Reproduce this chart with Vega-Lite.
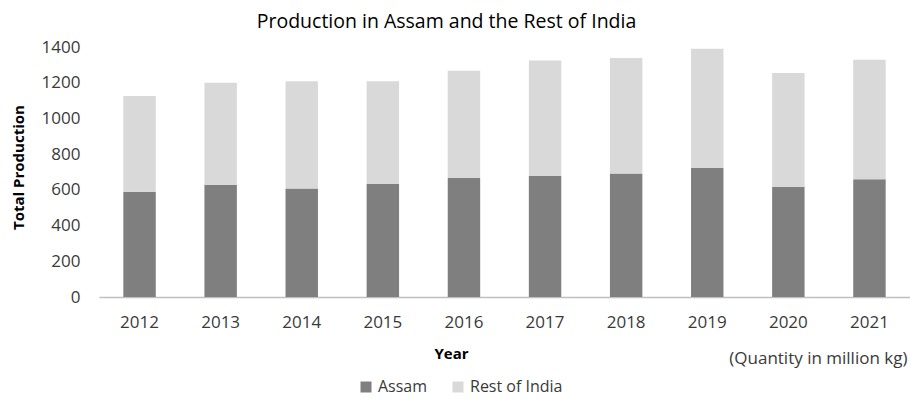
{
  "$schema": "https://vega.github.io/schema/vega-lite/v6.json",
  "width": 811,
  "height": 250,
  "autosize": {"type": "none"},
  "padding": {"left": 99, "top": 47, "right": 0, "bottom": 103},
  "background": "white",
  "config": {
    "font": "Open Sans",
    "view": {"stroke": null},
    "axisY": {"labelOverlap": false, "labelFlush": false}
  },
  "title": {
    "text": "Production in Assam and the Rest of India",
    "anchor": "middle",
    "frame": "group",
    "dx": -58,
    "dy": 12,
    "fontSize": 19.5,
    "fontWeight": "normal",
    "color": "#000000",
    "baseline": "alphabetic",
    "offset": 3
  },
  "data": {
    "values": [
      {"Year": "2012", "Region": "Assam", "Production": 590},
      {"Year": "2012", "Region": "Rest of India", "Production": 536},
      {"Year": "2013", "Region": "Assam", "Production": 628},
      {"Year": "2013", "Region": "Rest of India", "Production": 572},
      {"Year": "2014", "Region": "Assam", "Production": 607},
      {"Year": "2014", "Region": "Rest of India", "Production": 601},
      {"Year": "2015", "Region": "Assam", "Production": 633},
      {"Year": "2015", "Region": "Rest of India", "Production": 575},
      {"Year": "2016", "Region": "Assam", "Production": 667},
      {"Year": "2016", "Region": "Rest of India", "Production": 600},
      {"Year": "2017", "Region": "Assam", "Production": 677},
      {"Year": "2017", "Region": "Rest of India", "Production": 648},
      {"Year": "2018", "Region": "Assam", "Production": 692},
      {"Year": "2018", "Region": "Rest of India", "Production": 647},
      {"Year": "2019", "Region": "Assam", "Production": 722},
      {"Year": "2019", "Region": "Rest of India", "Production": 668},
      {"Year": "2020", "Region": "Assam", "Production": 617},
      {"Year": "2020", "Region": "Rest of India", "Production": 638},
      {"Year": "2021", "Region": "Assam", "Production": 660},
      {"Year": "2021", "Region": "Rest of India", "Production": 669}
    ]
  },
  "layer": [
    {
      "mark": {"type": "bar"},
      "encoding": {
        "x": {
          "field": "Year",
          "type": "nominal",
          "scale": {"paddingInner": 0.6, "paddingOuter": 0.3},
          "axis": {
            "title": "Year",
            "titleFontSize": 15,
            "titleFontWeight": "bold",
            "titleColor": "#000000",
            "titleX": 352,
            "titleY": 56,
            "titleBaseline": "middle",
            "titleAlign": "center",
            "labelAngle": 0,
            "labelFontSize": 17,
            "labelColor": "#3a3a3a",
            "labelPadding": 17,
            "ticks": false,
            "domainColor": "#bfbfbf",
            "domainWidth": 1.5
          }
        },
        "y": {
          "field": "Production",
          "type": "quantitative",
          "aggregate": "sum",
          "stack": "zero",
          "scale": {"domain": [0, 1400], "nice": false},
          "axis": {
            "title": "Total Production",
            "titleFontSize": 15,
            "titleFontWeight": "bold",
            "titleColor": "#000000",
            "titleX": -81,
            "titleY": 120,
            "titleAngle": -90,
            "titleBaseline": "middle",
            "titleAlign": "center",
            "values": [0, 200, 400, 600, 800, 1000, 1200, 1400],
            "format": "d",
            "labelOverlap": false,
            "labelFontSize": 17,
            "labelColor": "#3a3a3a",
            "labelPadding": 19,
            "ticks": false,
            "domain": false,
            "grid": false
          }
        },
        "color": {
          "field": "Region",
          "type": "nominal",
          "scale": {"domain": ["Assam", "Rest of India"], "range": ["#7f7f7f", "#d9d9d9"]},
          "legend": {
            "title": null,
            "orient": "none",
            "direction": "horizontal",
            "legendX": 259,
            "legendY": 332,
            "symbolType": "square",
            "symbolSize": 121,
            "symbolStrokeWidth": 0,
            "labelFontSize": 16,
            "labelColor": "#3a3a3a",
            "labelOffset": 4,
            "columnPadding": 22
          }
        },
        "order": {"field": "Region", "sort": "ascending"}
      }
    },
    {
      "data": {"values": [{"Year": "2021", "Production": 0, "note": "(Quantity in million kg)"}]},
      "mark": {"type": "text", "align": "right", "baseline": "middle", "dx": 38, "dy": 62, "fontSize": 17, "color": "#3a3a3a"},
      "encoding": {
        "x": {"field": "Year", "type": "nominal"},
        "y": {
          "field": "Production",
          "type": "quantitative",
          "axis": {
            "title": "Total Production",
            "titleFontSize": 15,
            "titleFontWeight": "bold",
            "titleColor": "#000000",
            "titleX": -81,
            "titleY": 120,
            "titleAngle": -90,
            "titleBaseline": "middle",
            "titleAlign": "center",
            "values": [0, 200, 400, 600, 800, 1000, 1200, 1400],
            "format": "d",
            "labelOverlap": false,
            "labelFontSize": 17,
            "labelColor": "#3a3a3a",
            "labelPadding": 19,
            "ticks": false,
            "domain": false,
            "grid": false
          }
        },
        "text": {"field": "note"}
      }
    }
  ]
}
